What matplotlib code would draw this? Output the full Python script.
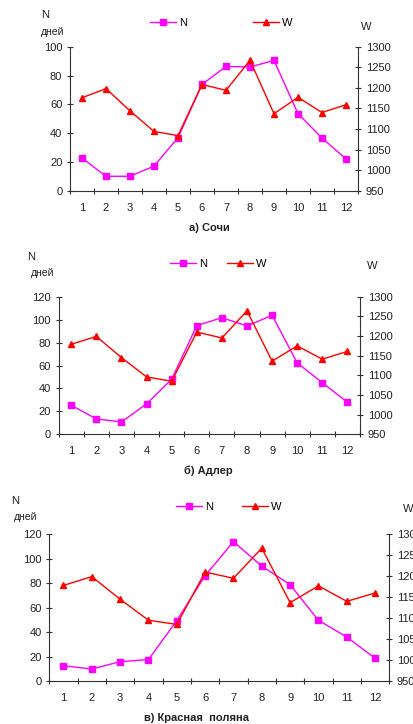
import numpy as np
import matplotlib.pyplot as plt
from matplotlib.ticker import FixedLocator, NullFormatter, FixedFormatter

plt.rcParams['font.family'] = ['Liberation Sans', 'DejaVu Sans']

months = list(range(1, 13))
month_labels = [str(m) for m in months]

# N, дней
n_sochi = [22.7, 10, 10, 17.1, 36.8, 73.8, 86.3, 85.9, 90.5, 53.5, 36.6, 22]
n_adler = [25.3, 13.4, 10.8, 26.5, 48, 94.8, 101.7, 94.5, 103.8, 62.2, 45, 27.9]
n_krasnaya = [12.5, 9.8, 15.8, 17.5, 49.4, 86.2, 114, 94, 78.8, 49.6, 36, 18.5]

# W
w_sochi = [1176, 1198, 1144, 1094, 1084, 1208, 1194, 1267, 1137, 1177, 1140, 1159]
w_adler = [1179, 1199, 1145, 1096, 1085, 1210, 1195, 1264, 1136, 1175, 1141, 1161]
w_krasnaya = [1178, 1199, 1145, 1095, 1085, 1210, 1195, 1267, 1137, 1177, 1140, 1160]

captions = ['а) Сочи', 'б) Адлер', 'в) Красная  поляна']

W, H = 414, 724
fig = plt.figure(figsize=(W / 100, H / 100), dpi=100)

# pixel boxes: left, right, top, bottom
boxes = [(70, 358, 46.7, 190.7), (58.7, 360, 296.7, 434.3), (49.3, 389.3, 534.3, 681)]
nmax = [100, 120, 120]
ndata = [n_sochi, n_adler, n_krasnaya]
wdata = [w_sochi, w_adler, w_krasnaya]
# positions of the extra labels (px)
leg_x = [150, 170, 176]
leg_y = [23, 264, 507]
col_sp = [5.9, 1.8, 2.6]
n_pos = [(45.5, 15), (31.5, 257), (15, 501)]
d_pos = [(41, 32), (31, 273), (14, 517)]
w_pos = [(361, 27), (367, 266), (403, 509)]
cap_pos = [(209, 228), (208, 471), (197, 718)]

fs = 8
tc = '#222222'
for i in range(3):
    l, r, t, b = boxes[i]
    ax = fig.add_axes([l / W, 1 - b / H, (r - l) / W, (b - t) / H])
    ax2 = ax.twinx()
    x = np.array(months)
    lnN, = ax.plot(x, ndata[i], color='#FF00FF', marker='s', markersize=4.5, lw=1, label='N')
    lnW, = ax2.plot(x, wdata[i], color='#FF0000', marker='^', markersize=5, lw=1, label='W')
    ax.set_xlim(0.5, 12.5)
    ax.set_ylim(0, nmax[i])
    ax.set_yticks(np.arange(0, nmax[i] + 1, 20))
    ax2.set_ylim(950, 1300)
    ax2.set_yticks(np.arange(950, 1301, 50))
    ax.xaxis.set_major_locator(FixedLocator(np.arange(0.5, 13, 1)))
    ax.xaxis.set_major_formatter(NullFormatter())
    ax.xaxis.set_minor_locator(FixedLocator(months))
    ax.xaxis.set_minor_formatter(FixedFormatter(month_labels))
    ax.tick_params(axis='x', which='major', direction='inout', length=5, width=0.8, color='#333333')
    ax.tick_params(axis='x', which='minor', length=0, labelsize=fs, pad=8.5, labelcolor=tc)
    ax.tick_params(axis='y', direction='inout', length=5, width=0.8, color='#333333',
                   labelsize=fs, pad=3, labelcolor=tc)
    ax2.tick_params(axis='y', direction='inout', length=5, width=0.8, color='#333333',
                    labelsize=fs, pad=3, labelcolor=tc)
    for a in (ax, ax2):
        a.spines['top'].set_visible(False)
        for s in ('left', 'right', 'bottom'):
            a.spines[s].set_color('#333333')
            a.spines[s].set_linewidth(0.8)
    ax.spines['right'].set_visible(False)
    ax2.spines['left'].set_visible(False)
    ax2.spines['bottom'].set_visible(False)

    ax.legend([lnN, lnW], ['N', 'W'], ncol=2, frameon=False, fontsize=fs,
              handlelength=2.35, handletextpad=0.27, columnspacing=col_sp[i],
              loc='center left', bbox_to_anchor=(leg_x[i] / W, 1 - leg_y[i] / H),
              bbox_transform=fig.transFigure, borderaxespad=0, borderpad=0)

    fig.text(n_pos[i][0] / W, 1 - n_pos[i][1] / H, 'N', fontsize=8, ha='center', va='center', color=tc)
    fig.text(d_pos[i][0] / W, 1 - d_pos[i][1] / H, 'дней', fontsize=7.5, ha='left', va='center', color=tc)
    fig.text(w_pos[i][0] / W, 1 - w_pos[i][1] / H, 'W', fontsize=8, ha='left', va='center', color=tc)
    fig.text(cap_pos[i][0] / W, 1 - cap_pos[i][1] / H, captions[i], fontsize=8, fontweight='bold',
             ha='center', va='center', color=tc)

fig.savefig('out.png', dpi=100)
